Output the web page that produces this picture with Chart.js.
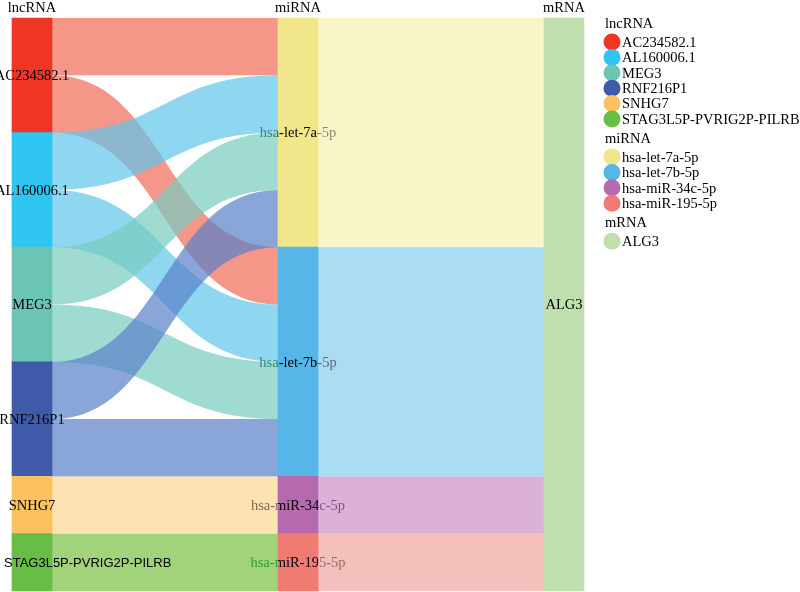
<!DOCTYPE html>
<html>
<head>
<meta charset="utf-8">
<script src="https://cdn.jsdelivr.net/npm/chart.js@4.4.0/dist/chart.umd.min.js"></script>
<style>
  html, body { margin: 0; padding: 0; background: #fff; }
  #wrap { position: relative; width: 800px; height: 592px; }
</style>
</head>
<body>
<div id="wrap"><canvas id="sankey" width="800" height="592"></canvas></div>
<script>
// node names per column
const lncRNA = ['AC234582.1', 'AL160006.1', 'MEG3', 'RNF216P1', 'SNHG7', 'STAG3L5P-PVRIG2P-PILRB'];
const miRNA = ['hsa-let-7a-5p', 'hsa-let-7b-5p', 'hsa-miR-34c-5p', 'hsa-miR-195-5p'];
const mRNA = ['ALG3'];
const columnTitles = ['lncRNA', 'miRNA', 'mRNA'];

// lncRNA -> miRNA links
const lncSource = ['AC234582.1', 'AC234582.1', 'AL160006.1', 'AL160006.1', 'MEG3', 'MEG3',
                   'RNF216P1', 'RNF216P1', 'SNHG7', 'STAG3L5P-PVRIG2P-PILRB'];
const lncTarget = ['hsa-let-7a-5p', 'hsa-let-7b-5p', 'hsa-let-7a-5p', 'hsa-let-7b-5p', 'hsa-let-7a-5p', 'hsa-let-7b-5p',
                   'hsa-let-7a-5p', 'hsa-let-7b-5p', 'hsa-miR-34c-5p', 'hsa-miR-195-5p'];
const lncWeight = [1, 1, 1, 1, 1, 1, 1, 1, 1, 1];

// miRNA -> mRNA links
const miSource = ['hsa-let-7a-5p', 'hsa-let-7b-5p', 'hsa-miR-34c-5p', 'hsa-miR-195-5p'];
const miTarget = ['ALG3', 'ALG3', 'ALG3', 'ALG3'];
const miWeight = [4, 4, 1, 1];

// colours
const nodeColor = {
    'AC234582.1': '#ef3524', 'AL160006.1': '#2ec5f1', 'MEG3': '#6cc4b4', 'RNF216P1': '#3e5aa8',
    'SNHG7': '#fdc15f', 'STAG3L5P-PVRIG2P-PILRB': '#68bd45',
    'hsa-let-7a-5p': '#f1e68a', 'hsa-let-7b-5p': '#57b6e8', 'hsa-miR-34c-5p': '#b56aaf', 'hsa-miR-195-5p': '#ef7b72',
    'ALG3': '#c0dfae'
};
const flowColor = {
    'AC234582.1': 'rgba(239,105,86,0.7)', 'AL160006.1': 'rgba(95,196,234,0.7)', 'MEG3': 'rgba(119,204,191,0.7)',
    'RNF216P1': 'rgba(89,128,201,0.7)', 'SNHG7': 'rgba(252,215,144,0.7)', 'STAG3L5P-PVRIG2P-PILRB': 'rgba(122,191,66,0.7)',
    'hsa-let-7a-5p': 'rgba(245,242,176,0.7)', 'hsa-let-7b-5p': 'rgba(134,205,239,0.7)',
    'hsa-miR-34c-5p': 'rgba(204,144,198,0.7)', 'hsa-miR-195-5p': 'rgba(241,165,159,0.7)'
};
// odd label tinting left / right of the miRNA bars
const miLabelLeft = ['#2e8b7a', '#2e8b7a', '#7d6b55', '#2f9e3a'];
const miLabelRight = ['#8c8a70', '#5f6878', '#8a4a93', '#9a6a68'];

const NODE_W = 40;
const FONT = '14.5px "Liberation Serif", "Times New Roman", serif';

// ---- build nodes + links ----
const columns = [lncRNA, miRNA, mRNA];
const links = [];
lncSource.forEach((s, i) => links.push({ source: s, target: lncTarget[i], value: lncWeight[i] }));
miSource.forEach((s, i) => links.push({ source: s, target: miTarget[i], value: miWeight[i] }));

const nodes = {};
columns.forEach((names, col) => {
    let acc = 0;
    names.forEach(name => {
        const outV = links.filter(l => l.source === name).reduce((a, l) => a + l.value, 0);
        const inV = links.filter(l => l.target === name).reduce((a, l) => a + l.value, 0);
        const v = Math.max(outV, inV);
        nodes[name] = { name, col, y0: acc, y1: acc + v, outOff: acc, inOff: acc };
        acc += v;
    });
});
links.forEach(l => {
    const s = nodes[l.source], t = nodes[l.target];
    l.sy0 = s.outOff; l.sy1 = s.outOff + l.value; s.outOff += l.value;
    l.ty0 = t.inOff; l.ty1 = t.inOff + l.value; t.inOff += l.value;
});
const total = Math.max(...columns.map(c => nodes[c[c.length - 1]].y1));
const nodeList = Object.values(nodes);

// ---- plugins ----
const flowPlugin = {
    id: 'flows',
    beforeDatasetsDraw(chart) {
        const { ctx, scales: { x, y } } = chart;
        const half = NODE_W / 2;
        links.forEach(l => {
            const s = nodes[l.source], t = nodes[l.target];
            const xs = x.getPixelForValue(s.col) + half;
            const xt = x.getPixelForValue(t.col) - half;
            const s0 = y.getPixelForValue(l.sy0), s1 = y.getPixelForValue(l.sy1);
            const t0 = y.getPixelForValue(l.ty0), t1 = y.getPixelForValue(l.ty1);
            const xm = (xs + xt) / 2;
            ctx.save();
            ctx.beginPath();
            ctx.moveTo(xs, s0);
            ctx.bezierCurveTo(xm, s0, xm, t0, xt, t0);
            ctx.lineTo(xt, t1);
            ctx.bezierCurveTo(xm, t1, xm, s1, xs, s1);
            ctx.closePath();
            ctx.fillStyle = flowColor[l.source];
            ctx.fill();
            ctx.restore();
        });
    }
};

const labelPlugin = {
    id: 'labels',
    afterDatasetsDraw(chart) {
        const { ctx, scales: { x, y } } = chart;
        ctx.save();
        ctx.textBaseline = 'middle';
        ctx.textAlign = 'center';
        ctx.font = FONT;
        ctx.fillStyle = '#000';

        // column headings
        columnTitles.forEach((t, col) => ctx.fillText(t, x.getPixelForValue(col), 8));

        nodeList.forEach(n => {
            const cx = x.getPixelForValue(n.col);
            const cy = (y.getPixelForValue(n.y0) + y.getPixelForValue(n.y1)) / 2 + 1;
            if (n.name === 'STAG3L5P-PVRIG2P-PILRB') {
                ctx.font = '13px "Liberation Sans", Arial, sans-serif';
                ctx.textAlign = 'left';
                ctx.fillText(n.name, 4, cy);
                ctx.font = FONT;
                ctx.textAlign = 'center';
            } else if (n.col === 1) {
                const i = miRNA.indexOf(n.name);
                const l = cx - NODE_W / 2, r = cx + NODE_W / 2;
                [[0, l, miLabelLeft[i]], [l, r, '#000'], [r, chart.width, miLabelRight[i]]].forEach(([a, b, c]) => {
                    ctx.save();
                    ctx.beginPath();
                    ctx.rect(a, 0, b - a, chart.height);
                    ctx.clip();
                    ctx.fillStyle = c;
                    ctx.fillText(n.name, cx, cy);
                    ctx.restore();
                });
            } else {
                ctx.fillText(n.name, cx, cy);
            }
        });
        ctx.restore();
    },
    afterDraw(chart) {
        // grouped legend on the right
        const ctx = chart.ctx;
        ctx.save();
        ctx.font = FONT;
        ctx.textBaseline = 'middle';
        ctx.textAlign = 'left';
        let yy = 24;
        columns.forEach((names, col) => {
            ctx.fillStyle = '#000';
            ctx.fillText(columnTitles[col], 605, yy);
            yy += 18;
            names.forEach(name => {
                ctx.beginPath();
                ctx.arc(612, yy, 8.5, 0, Math.PI * 2);
                ctx.fillStyle = nodeColor[name];
                ctx.fill();
                ctx.fillStyle = '#000';
                ctx.fillText(name, 622, yy + 1);
                yy += 15.4;
            });
            yy += 4.6;
        });
        ctx.restore();
    }
};

// ---- chart ----
new Chart(document.getElementById('sankey'), {
    type: 'bar',
    data: {
        datasets: [{
            data: nodeList.map(n => ({ x: n.col, y: [n.y0, n.y1] })),
            backgroundColor: nodeList.map(n => nodeColor[n.name]),
            borderWidth: 0,
            barThickness: NODE_W,
            borderSkipped: false,
            clip: false
        }]
    },
    options: {
        responsive: false,
        animation: false,
        events: [],
        layout: { padding: { left: 12, right: 216, top: 18, bottom: 1 } },
        plugins: { legend: { display: false }, tooltip: { enabled: false } },
        scales: {
            // columns 266px apart, half a node (20px) of room at each end
            x: { type: 'linear', min: -0.0752, max: 2.0752, offset: false, display: false },
            y: { min: 0, max: total, reverse: true, display: false }
        }
    },
    plugins: [flowPlugin, labelPlugin]
});
</script>
</body>
</html>
